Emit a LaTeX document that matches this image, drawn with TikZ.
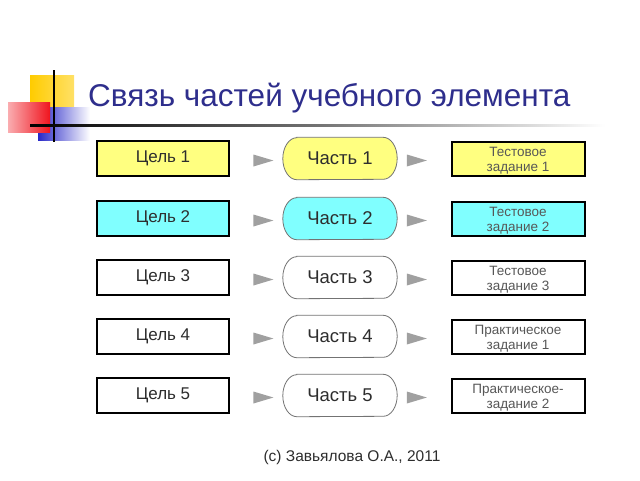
\documentclass[tikz,border=0pt]{standalone}
\usepackage{fontspec}
\setmainfont{Liberation Sans}
\usetikzlibrary{calc,backgrounds}
\definecolor{ttl}{RGB}{46,46,140}
\definecolor{yfill}{RGB}{255,255,128}
\definecolor{cfill}{RGB}{128,255,255}
\definecolor{arrgray}{RGB}{160,160,160}
\definecolor{txtgray}{RGB}{45,45,45}
\definecolor{logoyellow}{RGB}{255,204,0}
\definecolor{logored}{RGB}{240,20,30}
\definecolor{logoblue}{RGB}{40,40,200}
\newcommand{\tstrut}{\rule{0pt}{14pt}}
\tikzset{
  goalbox/.style={draw=black, line width=2pt, minimum width=132pt, minimum height=35pt, inner sep=0pt,
    font=\fontsize{17}{20}\selectfont, text=txtgray},
  taskbox/.style={draw=black, line width=2pt, minimum width=133pt, minimum height=34pt, inner sep=0pt,
    font=\fontsize{13.5}{15.5}\selectfont, text=txtgray!80, align=center},
  partnode/.style={minimum width=86pt, minimum height=42pt, inner sep=0pt,
    font=\fontsize{18.5}{21}\selectfont, text=txtgray},
  partline/.style={draw=black!55, line width=0.8pt},
  tri/.style={fill=arrgray}
}
\begin{document}
\begin{tikzpicture}[x=1pt,y=-1pt]
\useasboundingbox (0,0) rectangle (640,480);
% logo
\shade[left color=logoyellow, right color=logoyellow!60] (30,75) rectangle (74,120);
\shade[left color=logoblue, right color=white] (38,107) rectangle (90,140);
\shade[left color=logored!35, right color=logored] (8,102) rectangle (50,132);
\draw[line width=1.3pt] (54,70) -- (54,142);
\shade[left color=black, right color=white, middle color=black!55] (30,124) rectangle (605,126.5);
% title
\node[anchor=base west, inner sep=0pt, text=ttl, font=\fontsize{31.5}{36}\selectfont] (title) at (88,106) {Связь частей учебного элемента};
% rows
\foreach \i/\f/\r in {1/yfill/158.5, 2/cfill/218.5, 3/white/277.5, 4/white/336.5, 5/white/395.5}{
  \node[goalbox, fill=\f] (g\i) at (163,\r) {Цель \i};
  \node[partnode] (p\i) at (340,\r) {Часть \i};
}
\node[taskbox, fill=yfill] (t1) at (518,158.5) {\tstrut Тестовое\\задание 1};
\node[taskbox, fill=cfill] (t2) at (518,218.5) {\tstrut Тестовое\\задание 2};
\node[taskbox, fill=white] (t3) at (518,277.5) {\tstrut Тестовое\\задание 3};
\node[taskbox, fill=white] (t4) at (518,336.5) {\tstrut Практическое\\задание 1};
\node[taskbox, fill=white] (t5) at (518,395.5) {\tstrut Практическое-\\задание 2};
\begin{scope}[on background layer]
\foreach \i/\f in {1/yfill, 2/cfill, 3/white, 4/white, 5/white}{
  \path[partline, fill=\f] (p\i.north west) -- (p\i.north east)
     arc[start angle=90, end angle=-90, x radius=14pt, y radius=21pt]
     -- (p\i.south west)
     arc[start angle=270, end angle=90, x radius=14pt, y radius=21pt] -- cycle;
}
\end{scope}
\foreach \i in {1,...,5}{
  \coordinate (m\i) at ($(g\i.east)!0.5!(p\i.west)+(0,2)$);
  \coordinate (n\i) at ($(p\i.east)!0.5!(t\i.west)+(0,2)$);
  \fill[tri] ($(m\i)+(-10,-6)$) -- ($(m\i)+(10,0)$) -- ($(m\i)+(-10,6)$) -- cycle;
  \fill[tri] ($(n\i)+(-10,-6)$) -- ($(n\i)+(10,0)$) -- ($(n\i)+(-10,6)$) -- cycle;
}
% footer
\node[font=\fontsize{15.5}{18}\selectfont, text=txtgray] (foot) at (352,457) {(c) Завьялова О.А., 2011};
\end{tikzpicture}
\end{document}
